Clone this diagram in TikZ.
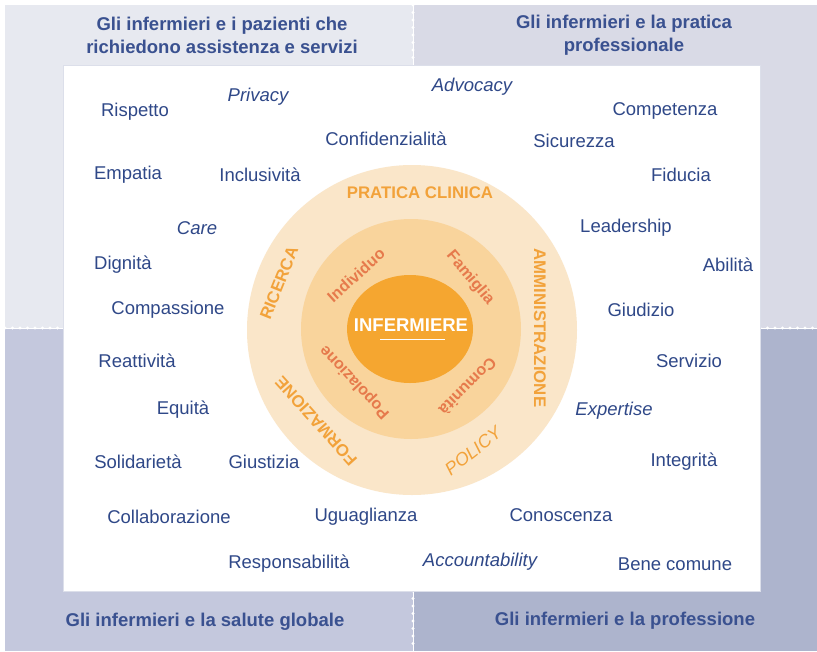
\documentclass[tikz,border=0pt]{standalone}
\usepackage{fontspec}
\setmainfont{Liberation Sans}
\definecolor{qa}{HTML}{E7E9F0}
\definecolor{qb}{HTML}{D9DAE6}
\definecolor{qc}{HTML}{C4C8DD}
\definecolor{qd}{HTML}{ADB4CD}
\definecolor{wordblue}{HTML}{2F4888}
\definecolor{headblue}{HTML}{3A5190}
\definecolor{ringout}{HTML}{FAE6C9}
\definecolor{ringmid}{HTML}{F9D49C}
\definecolor{core}{HTML}{F5A630}
\definecolor{ringtext}{HTML}{F2A23A}
\definecolor{innertext}{HTML}{E67A4C}
\definecolor{frameline}{HTML}{DCDFEA}
\begin{document}
\begin{tikzpicture}[x=1pt,y=-1pt,
  word/.style={text=wordblue, font=\fontsize{18.5}{22}\selectfont, inner sep=0pt},
  iword/.style={word, font=\fontsize{18.5}{22}\selectfont\itshape},
  head/.style={text=headblue, font=\fontsize{18.5}{23}\selectfont\bfseries, align=center, inner sep=0pt},
  ringlab/.style={text=ringtext, font=\fontsize{16.8}{20}\selectfont\bfseries, inner sep=0pt},
  innerlab/.style={text=innertext, font=\fontsize{16}{18}\selectfont\bfseries, inner sep=0pt},
  divider/.style={white, line width=0.7pt},
  dots/.style={white, line width=3.2pt, line cap=round, dash pattern=on 0pt off 7.5pt}]
\useasboundingbox (0,0) rectangle (817,651);
% quadrants
\fill[qa] (5,5) rectangle (413,328);
\fill[qb] (413,5) rectangle (817,328);
\fill[qc] (5,328) rectangle (413,651);
\fill[qd] (413,328) rectangle (817,651);
% dividers
\coordinate (vt1) at (413,5);
\coordinate (vt2) at (413,65);
\coordinate (vb1) at (413,591);
\coordinate (vb2) at (413,651);
\coordinate (hl1) at (5,328);
\coordinate (hl2) at (63,328);
\coordinate (hr1) at (760,328);
\coordinate (hr2) at (817,328);
\foreach \a/\b in {vt1/vt2,vb1/vb2,hl1/hl2,hr1/hr2}{
  \draw[divider] (\a) -- (\b);
  \draw[dots] (\a) -- (\b);
}
% white panel
\node[draw=frameline, line width=0.8pt, fill=white, minimum width=697pt, minimum height=526pt, inner sep=0pt, anchor=north west] (panel) at (63,65) {};
% headers
\node[head] (h1) at (222,35) {Gli infermieri e i pazienti che\\richiedono assistenza e servizi};
\node[head] (h2) at (624,35) {Gli infermieri e la pratica\\professionale};
\node[head] (h3) at (205,622) {Gli infermieri e la salute globale};
\node[head] (h4) at (625,621) {Gli infermieri e la professione};
% circles
\fill[ringout] (412,330) circle [radius=165];
\fill[ringmid] (411,329) circle [radius=110];
\fill[core] (410,329) ellipse [x radius=63, y radius=54];
\node[text=white, font=\fontsize{18.5}{20}\selectfont\bfseries, inner sep=0pt] (inf) at (411,325) {INFERMIERE};
\coordinate (ul1) at (380,339);
\coordinate (ul2) at (445,339);
\draw[white, line width=0.8pt] (ul1) -- (ul2);
% outer ring labels
\node[ringlab] (pc) at (420,193) {PRATICA CLINICA};
\node[ringlab, rotate=68] (ric) at (279,283) {RICERCA};
\node[ringlab, rotate=-90] (amm) at (540,328) {AMMINISTRAZIONE};
\node[ringlab, rotate=132] (form) at (316,421) {FORMAZIONE};
\node[ringlab, font=\fontsize{18}{20}\selectfont\itshape, rotate=38] (pol) at (473,451) {POLICY};
% inner ring labels
\node[innerlab, rotate=42] (ind) at (356,275) {Individuo};
\node[innerlab, rotate=-50] (fam) at (470,278) {Famiglia};
\node[innerlab, rotate=-135] (com) at (468,387) {Comunità};
\node[innerlab, rotate=133] (pop) at (355,382) {Popolazione};
% words
\node[word] (w1) at (135,112) {Rispetto};
\node[iword] (w2) at (258,97) {Privacy};
\node[iword] (w3) at (472,87) {Advocacy};
\node[word] (w4) at (665,111) {Competenza};
\node[word] (w5) at (386,139) {Confidenzialità};
\node[word] (w6) at (574,141) {Sicurezza};
\node[word] (w7) at (128,175) {Empatia};
\node[word] (w8) at (260,175) {Inclusività};
\node[word] (w9) at (681,175) {Fiducia};
\node[iword] (w10) at (197,228) {Care};
\node[word] (w11) at (626,228) {Leadership};
\node[word] (w12) at (123,265) {Dignità};
\node[word] (w13) at (728,265) {Abilità};
\node[word] (w14) at (168,310) {Compassione};
\node[word] (w15) at (641,310) {Giudizio};
\node[word] (w16) at (137,361) {Reattività};
\node[word] (w17) at (689,361) {Servizio};
\node[word] (w18) at (183,410) {Equità};
\node[iword] (w19) at (614,411) {Expertise};
\node[word] (w20) at (138,462) {Solidarietà};
\node[word] (w21) at (264,462) {Giustizia};
\node[word] (w22) at (684,462) {Integrità};
\node[word] (w23) at (169,517) {Collaborazione};
\node[word] (w24) at (366,517) {Uguaglianza};
\node[word] (w25) at (561,515) {Conoscenza};
\node[word] (w26) at (289,564) {Responsabilità};
\node[iword] (w27) at (480,562) {Accountability};
\node[word] (w28) at (675,564) {Bene comune};
\end{tikzpicture}
\end{document}
